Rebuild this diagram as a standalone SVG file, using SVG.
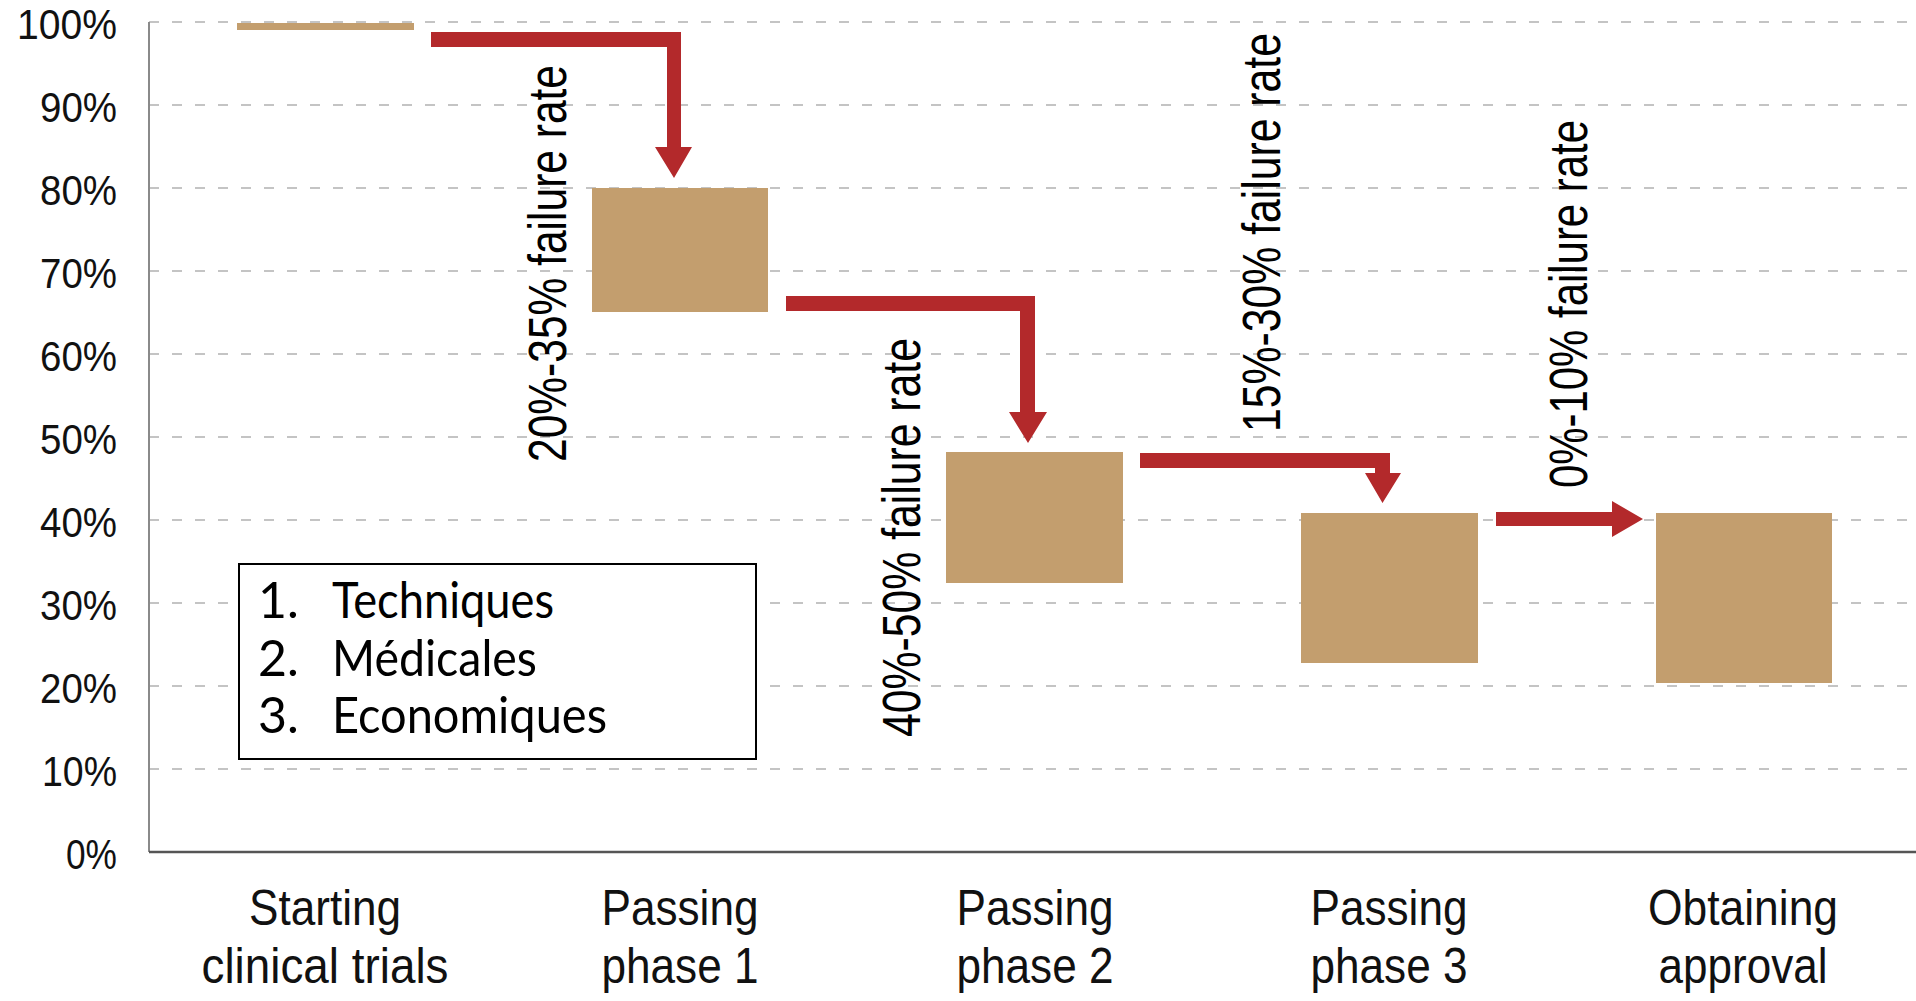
<svg xmlns="http://www.w3.org/2000/svg" width="1916" height="1001" viewBox="0 0 1916 1001">
<style>
.grid{stroke:#c4c4c4;stroke-width:2;stroke-dasharray:10 13;fill:none}
.bar{fill:#c39e6e}
.arrow{fill:#b3292b}
.ylab{font-family:"Liberation Sans",Arial,sans-serif;font-size:42px;fill:#111;text-anchor:end}
.xlab{font-family:"Liberation Sans",Arial,sans-serif;font-size:50px;fill:#111;text-anchor:middle}
.rate{font-family:"Liberation Sans",Arial,sans-serif;font-size:42.6px;fill:#000}
.leg{font-family:Lato,"Open Sans",sans-serif;font-size:50px;fill:#000}
</style>
<rect width="1916" height="1001" fill="#fff"/>
<g id="grid">
<line class="grid" x1="149" y1="22" x2="1916" y2="22"/>
<line class="grid" x1="149" y1="105" x2="1916" y2="105"/>
<line class="grid" x1="149" y1="188" x2="1916" y2="188"/>
<line class="grid" x1="149" y1="271" x2="1916" y2="271"/>
<line class="grid" x1="149" y1="354" x2="1916" y2="354"/>
<line class="grid" x1="149" y1="437" x2="1916" y2="437"/>
<line class="grid" x1="149" y1="520" x2="1916" y2="520"/>
<line class="grid" x1="149" y1="603" x2="1916" y2="603"/>
<line class="grid" x1="149" y1="686" x2="1916" y2="686"/>
<line class="grid" x1="149" y1="769" x2="1916" y2="769"/>
</g>
<g id="axes">
<line x1="149" y1="22" x2="149" y2="852" stroke="#8a8a8a" stroke-width="2"/>
<line x1="149" y1="852" x2="1916" y2="852" stroke="#555" stroke-width="2.5"/>
</g>
<g id="y-labels">
<text class="ylab" x="117" y="39" textLength="100" lengthAdjust="spacingAndGlyphs">100%</text>
<text class="ylab" x="117" y="122" textLength="77" lengthAdjust="spacingAndGlyphs">90%</text>
<text class="ylab" x="117" y="205" textLength="77" lengthAdjust="spacingAndGlyphs">80%</text>
<text class="ylab" x="117" y="288" textLength="77" lengthAdjust="spacingAndGlyphs">70%</text>
<text class="ylab" x="117" y="371" textLength="77" lengthAdjust="spacingAndGlyphs">60%</text>
<text class="ylab" x="117" y="454" textLength="77" lengthAdjust="spacingAndGlyphs">50%</text>
<text class="ylab" x="117" y="537" textLength="77" lengthAdjust="spacingAndGlyphs">40%</text>
<text class="ylab" x="117" y="620" textLength="77" lengthAdjust="spacingAndGlyphs">30%</text>
<text class="ylab" x="117" y="703" textLength="77" lengthAdjust="spacingAndGlyphs">20%</text>
<text class="ylab" x="117" y="786" textLength="75" lengthAdjust="spacingAndGlyphs">10%</text>
<text class="ylab" x="117" y="869" textLength="51" lengthAdjust="spacingAndGlyphs">0%</text>
</g>
<g id="bar-starting">
<rect class="bar" x="237" y="23" width="177" height="7"/>
<text class="xlab" x="325" y="925" textLength="152" lengthAdjust="spacingAndGlyphs">Starting</text>
<text class="xlab" x="325" y="983" textLength="247" lengthAdjust="spacingAndGlyphs">clinical trials</text>
</g>
<g id="bar-phase1">
<rect class="bar" x="592" y="188" width="176" height="124"/>
<text class="xlab" x="680" y="925" textLength="157" lengthAdjust="spacingAndGlyphs">Passing</text>
<text class="xlab" x="680" y="983" textLength="157" lengthAdjust="spacingAndGlyphs">phase 1</text>
</g>
<g id="bar-phase2">
<rect class="bar" x="946" y="452" width="177" height="131"/>
<text class="xlab" x="1035" y="925" textLength="157" lengthAdjust="spacingAndGlyphs">Passing</text>
<text class="xlab" x="1035" y="983" textLength="157" lengthAdjust="spacingAndGlyphs">phase 2</text>
</g>
<g id="bar-phase3">
<rect class="bar" x="1301" y="513" width="177" height="150"/>
<text class="xlab" x="1389" y="925" textLength="157" lengthAdjust="spacingAndGlyphs">Passing</text>
<text class="xlab" x="1389" y="983" textLength="157" lengthAdjust="spacingAndGlyphs">phase 3</text>
</g>
<g id="bar-approval">
<rect class="bar" x="1656" y="513" width="176" height="170"/>
<text class="xlab" x="1743" y="925" textLength="190" lengthAdjust="spacingAndGlyphs">Obtaining</text>
<text class="xlab" x="1743" y="983" textLength="169" lengthAdjust="spacingAndGlyphs">approval</text>
</g>
<g id="connectors">
<path class="arrow" d="M431,32 H681 V147 H692 L674,178 L655,147 H667 V47 H431 Z"/>
<path class="arrow" d="M786,296 H1035 V412 H1047 L1028,443 L1009,412 H1020 V311 H786 Z"/>
<path class="arrow" d="M1140,453 H1390 V473 H1401 L1382.5,503 L1365,473 H1375 V468 H1140 Z"/>
<path class="arrow" d="M1496,512 H1612 V501 L1643,519 L1612,537 V526 H1496 Z"/>
</g>
<g id="rate-labels">
<text class="rate" transform="translate(566,462) rotate(-90) scale(1,1.245)" textLength="397" lengthAdjust="spacingAndGlyphs">20%-35% failure rate</text>
<text class="rate" transform="translate(920,737) rotate(-90) scale(1,1.245)" textLength="399" lengthAdjust="spacingAndGlyphs">40%-50% failure rate</text>
<text class="rate" transform="translate(1280,432) rotate(-90) scale(1,1.245)" textLength="399" lengthAdjust="spacingAndGlyphs">15%-30% failure rate</text>
<text class="rate" transform="translate(1587,488) rotate(-90) scale(1,1.245)" textLength="368" lengthAdjust="spacingAndGlyphs">0%-10% failure rate</text>
</g>
<g id="legend">
<rect x="239" y="564" width="517" height="195" fill="#fff" stroke="#000" stroke-width="2"/>
<text class="leg" x="258" y="618">1.</text>
<text class="leg" x="332" y="618" textLength="222" lengthAdjust="spacingAndGlyphs">Techniques</text>
<text class="leg" x="258" y="676">2.</text>
<text class="leg" x="332" y="676" textLength="205" lengthAdjust="spacingAndGlyphs">Médicales</text>
<text class="leg" x="258" y="733">3.</text>
<text class="leg" x="332" y="733" textLength="275" lengthAdjust="spacingAndGlyphs">Economiques</text>
</g>
</svg>
